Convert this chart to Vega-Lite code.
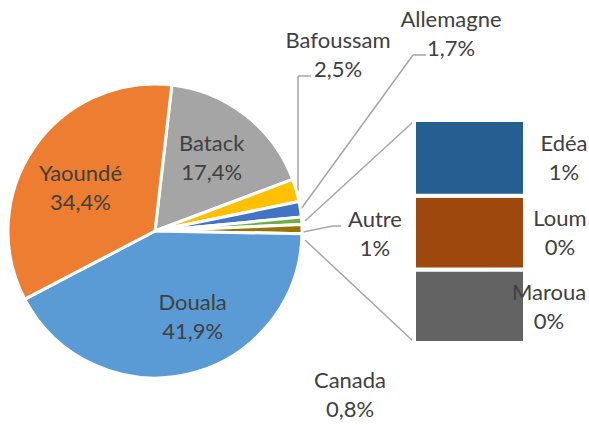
{
  "$schema": "https://vega.github.io/schema/vega-lite/v6.json",
  "width": 589,
  "height": 425,
  "autosize": {"type": "fit", "contains": "padding"},
  "padding": 0,
  "background": "white",
  "config": {
    "view": {"stroke": null},
    "text": {"font": "Lato", "fontSize": 22, "color": "#404040", "lineHeight": 29, "lineBreak": "\n", "align": "center", "baseline": "middle"},
    "rule": {"color": "#A6A6A6", "strokeWidth": 1.5}
  },
  "datasets": {
    "pie": [
      {"name": "Batack", "value": 17.4, "ord": 1, "label": "Batack\n17,4%"},
      {"name": "Bafoussam", "value": 2.5, "ord": 2, "label": "Bafoussam\n2,5%"},
      {"name": "Allemagne", "value": 1.7, "ord": 3, "label": "Allemagne\n1,7%"},
      {"name": "Canada", "value": 0.8, "ord": 4, "label": "Canada\n0,8%"},
      {"name": "Autre", "value": 1.0, "ord": 5, "label": "Autre\n1%"},
      {"name": "Douala", "value": 41.9, "ord": 6, "label": "Douala\n41,9%"},
      {"name": "Yaoundé", "value": 34.4, "ord": 7, "label": "Yaoundé\n34,4%"}
    ],
    "bar": [
      {"name": "Maroua", "value": 0.33, "ord": 1, "label": "Maroua\n0%"},
      {"name": "Loum", "value": 0.33, "ord": 2, "label": "Loum\n0%"},
      {"name": "Edéa", "value": 0.34, "ord": 3, "label": "Edéa\n1%"}
    ],
    "leaders": [
      {"x1": 298, "y1": 191, "x2": 298, "y2": 76},
      {"x1": 298, "y1": 76, "x2": 311, "y2": 76},
      {"x1": 301, "y1": 209, "x2": 413, "y2": 55},
      {"x1": 413, "y1": 55, "x2": 426, "y2": 55},
      {"x1": 303, "y1": 232, "x2": 333, "y2": 226},
      {"x1": 333, "y1": 226, "x2": 341, "y2": 226},
      {"x1": 305, "y1": 221, "x2": 413, "y2": 122},
      {"x1": 305, "y1": 240, "x2": 413, "y2": 341}
    ]
  },
  "layer": [
    {
      "data": {"name": "leaders"},
      "mark": {"type": "rule"},
      "encoding": {
        "x": {"field": "x1", "type": "quantitative", "scale": null},
        "y": {"field": "y1", "type": "quantitative", "scale": null},
        "x2": {"field": "x2"},
        "y2": {"field": "y2"}
      }
    },
    {
      "data": {"name": "pie"},
      "mark": {"type": "arc", "x": 155, "y": 231, "outerRadius": 147, "stroke": "white", "strokeWidth": 3},
      "encoding": {
        "theta": {"field": "value", "type": "quantitative", "stack": true, "scale": {"range": [0.115, 6.398]}},
        "order": {"field": "ord", "type": "quantitative"},
        "color": {
          "field": "name", "type": "nominal", "legend": null,
          "scale": {
            "domain": ["Batack", "Bafoussam", "Allemagne", "Canada", "Autre", "Douala", "Yaoundé", "Edéa", "Loum", "Maroua"],
            "range": ["#A5A5A5", "#FFC000", "#4472C4", "#70AD47", "#997300", "#5B9BD5", "#ED7D31", "#255E91", "#9E480E", "#636363"]
          }
        }
      }
    },
    {
      "data": {"name": "pie"},
      "mark": {"type": "text", "x": 155, "y": 231, "radius": 92, "dy": -14.5},
      "encoding": {
        "theta": {"field": "value", "type": "quantitative", "stack": true},
        "order": {"field": "ord", "type": "quantitative"},
        "text": {"condition": {"test": "datum.name === 'Batack'", "field": "label"}, "value": ""}
      }
    },
    {
      "data": {"name": "pie"},
      "mark": {"type": "text", "x": 155, "y": 231, "radius": 94, "dx": 16, "dy": -19.5},
      "encoding": {
        "theta": {"field": "value", "type": "quantitative", "stack": true},
        "order": {"field": "ord", "type": "quantitative"},
        "text": {"condition": {"test": "datum.name === 'Douala'", "field": "label"}, "value": ""}
      }
    },
    {
      "data": {"name": "pie"},
      "mark": {"type": "text", "x": 155, "y": 231, "radius": 88, "dx": -2, "dy": -7.5},
      "encoding": {
        "theta": {"field": "value", "type": "quantitative", "stack": true},
        "order": {"field": "ord", "type": "quantitative"},
        "text": {"condition": {"test": "datum.name === 'Yaoundé'", "field": "label"}, "value": ""}
      }
    },
    {
      "data": {"name": "pie"},
      "transform": [{"filter": "datum.name === 'Bafoussam'"}],
      "mark": {"type": "text", "x": 338, "y": 40.5},
      "encoding": {"text": {"field": "label"}}
    },
    {
      "data": {"name": "pie"},
      "transform": [{"filter": "datum.name === 'Allemagne'"}],
      "mark": {"type": "text", "x": 451, "y": 20},
      "encoding": {"text": {"field": "label"}}
    },
    {
      "data": {"name": "pie"},
      "transform": [{"filter": "datum.name === 'Autre'"}],
      "mark": {"type": "text", "x": 375, "y": 219.5},
      "encoding": {"text": {"field": "label"}}
    },
    {
      "data": {"name": "pie"},
      "transform": [{"filter": "datum.name === 'Canada'"}],
      "mark": {"type": "text", "x": 350, "y": 380.5},
      "encoding": {"text": {"field": "label"}}
    },
    {
      "data": {"name": "bar"},
      "mark": {"type": "bar", "stroke": "white", "strokeWidth": 4, "width": 111},
      "encoding": {
        "x": {"datum": 469.5, "type": "quantitative", "scale": null},
        "y": {"field": "value", "type": "quantitative", "stack": "zero", "scale": {"domain": [0, 1], "range": [343, 120]}, "axis": null},
        "order": {"field": "ord", "type": "quantitative"},
        "color": {
          "field": "name", "type": "nominal", "legend": null,
          "scale": {
            "domain": ["Batack", "Bafoussam", "Allemagne", "Canada", "Autre", "Douala", "Yaoundé", "Edéa", "Loum", "Maroua"],
            "range": ["#A5A5A5", "#FFC000", "#4472C4", "#70AD47", "#997300", "#5B9BD5", "#ED7D31", "#255E91", "#9E480E", "#636363"]
          }
        }
      }
    },
    {
      "data": {"name": "bar"},
      "mark": {"type": "text", "x": 564, "dy": 23.5},
      "encoding": {
        "y": {"field": "value", "type": "quantitative", "stack": "zero", "scale": {"domain": [0, 1], "range": [343, 120]}, "axis": null},
        "order": {"field": "ord", "type": "quantitative"},
        "text": {"condition": {"test": "datum.name === 'Edéa'", "field": "label"}, "value": ""}
      }
    },
    {
      "data": {"name": "bar"},
      "mark": {"type": "text", "x": 560, "dy": 23.5},
      "encoding": {
        "y": {"field": "value", "type": "quantitative", "stack": "zero", "scale": {"domain": [0, 1], "range": [343, 120]}, "axis": null},
        "order": {"field": "ord", "type": "quantitative"},
        "text": {"condition": {"test": "datum.name === 'Loum'", "field": "label"}, "value": ""}
      }
    },
    {
      "data": {"name": "bar"},
      "mark": {"type": "text", "x": 549, "dy": 23.5},
      "encoding": {
        "y": {"field": "value", "type": "quantitative", "stack": "zero", "scale": {"domain": [0, 1], "range": [343, 120]}, "axis": null},
        "order": {"field": "ord", "type": "quantitative"},
        "text": {"condition": {"test": "datum.name === 'Maroua'", "field": "label"}, "value": ""}
      }
    }
  ]
}
